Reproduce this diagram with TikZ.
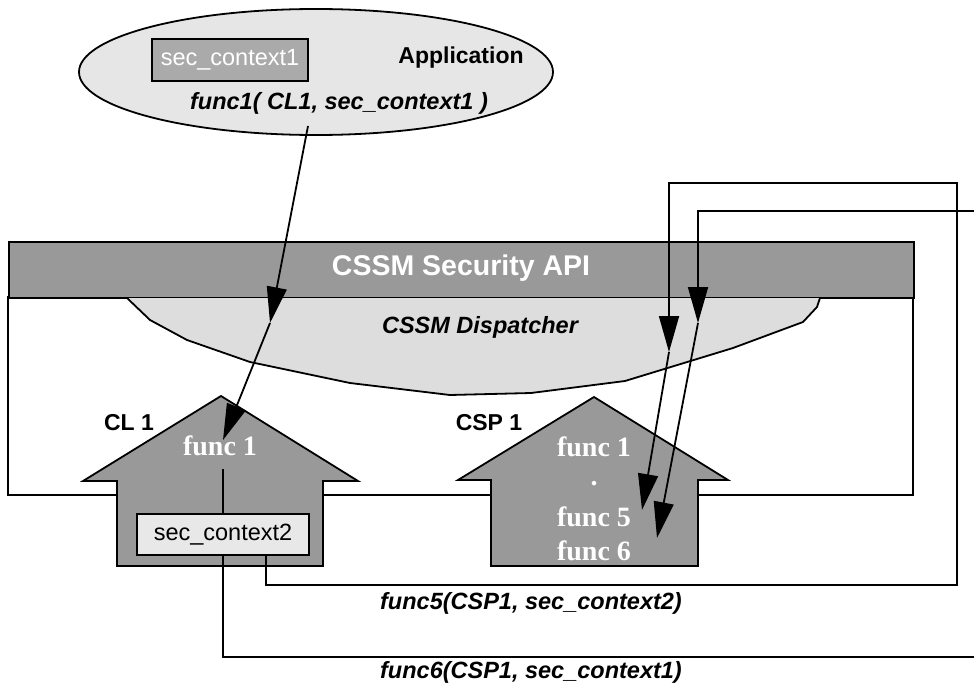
\documentclass[tikz,border=0pt]{standalone}
\usepackage{fontspec}
\setmainfont{Liberation Sans}
\newfontfamily\tnr{Liberation Serif}
\usetikzlibrary{arrows.meta,shapes.geometric}
\definecolor{darkg}{HTML}{999999}
\definecolor{lightg}{HTML}{DDDDDD}
\definecolor{ellg}{HTML}{E6E6E6}
\definecolor{boxg}{HTML}{AAAAAA}
\definecolor{boxl}{HTML}{E8E8E8}
\begin{document}
\begin{tikzpicture}[x=1pt,y=-1pt,line width=1.8pt,
  arr/.style={-{Triangle[length=36pt,width=20pt]}},
  lbl/.style={font=\fontsize{23.5}{28}\selectfont\bfseries\itshape},
  bold/.style={font=\fontsize{23}{28}\selectfont\bfseries},
  serifw/.style={font=\fontsize{28}{32}\selectfont\tnr\bfseries,text=white,inner sep=0pt},
  house/.style={draw,fill=darkg,line join=miter}]
\useasboundingbox (0,0) rectangle (974,685);
% application ellipse
\node[ellipse,draw,fill=ellg,minimum width=474pt,minimum height=126pt,inner sep=0pt] (app) at (316,72) {};
\node[draw,fill=boxg,minimum width=156pt,minimum height=42pt,inner sep=0pt,text=white,font=\fontsize{23.5}{28}\selectfont] (sc1) at (230,60) {sec\_context1};
\node[bold] (appl) at (461,58) {Application};
\node[lbl] (f1call) at (339,103) {func1( CL1, sec\_context1 )};
% frame
\draw (8,297) rectangle (913,495);
\node[draw,fill=darkg,anchor=north west,minimum width=905pt,minimum height=56pt,inner sep=0pt] (api) at (8,241) {};
\node[font=\fontsize{28.5}{32}\selectfont\bfseries,text=white] (apit) at (461,268) {CSSM Security API};
% dispatcher
\path[fill=lightg] (127,298) -- (150,320) -- (187,340) -- (250,362) -- (350,383) -- (450,395) -- (531,393) -- (625,381) -- (697,359) -- (733,348) -- (803,322) -- (817,307) -- (820,298) -- cycle;
\draw[line join=round] (127,298) -- (150,320) -- (187,340) -- (250,362) -- (350,383) -- (450,395) -- (531,393) -- (625,381) -- (697,359) -- (733,348) -- (803,322) -- (817,307) -- (820,298);
\node[lbl] (disp) at (480,327) {CSSM Dispatcher};
% houses
\draw[house] (83,481) -- (221,396) -- (358,481) -- (323,481) -- (323,566) -- (117,566) -- (117,481) -- cycle;
\draw[house] (458,480) -- (594,397) -- (728,480) -- (698,480) -- (698,566) -- (491,566) -- (491,480) -- cycle;
\node[bold] (cl1) at (129,423) {CL 1};
\node[bold] (csp1) at (489,423) {CSP 1};
\node[serifw] (cf1) at (220,446) {func 1};
\node[serifw] (pf1) at (594,447) {func 1};
\node[serifw] (pdot) at (594,484) {.};
\node[serifw] (pf5) at (594,517) {func 5};
\node[serifw] (pf6) at (594,551) {func 6};
\node[draw,fill=boxl,minimum width=172pt,minimum height=41pt,inner sep=0pt,font=\fontsize{23.5}{28}\selectfont] (sc2) at (223,534.5) {sec\_context2};
% connectors
\coordinate (a1) at (308,126);
\coordinate (m1) at (270,323);
\coordinate (t1) at (223,440);
\draw[arr] (a1) -- (m1);
\draw[arr] (m1) -- (t1);
\draw (223,469) -- (sc2.north);
\coordinate (s5) at (266,555);
\coordinate (s6) at (223,555);
\coordinate (r5) at (957,585);
\coordinate (m5) at (669,352);
\coordinate (t5) at (642,510);
\coordinate (e6) at (974,657);
\coordinate (e6b) at (974,211);
\coordinate (m6) at (698,323);
\coordinate (t6) at (657,538);
\draw[line join=miter] (s5) |- (r5) |- (669,183) -- (669,320);
\draw[arr] (669,300) -- (m5);
\draw[arr] (m5) -- (t5);
\draw[line join=miter] (s6) |- (e6);
\draw[line join=miter] (e6b) -| (698,290);
\draw[arr] (698,270) -- (m6);
\draw[arr] (m6) -- (t6);
\node[lbl] (f5l) at (531,603) {func5(CSP1, sec\_context2)};
\node[lbl] (f6l) at (531,672) {func6(CSP1, sec\_context1)};
\end{tikzpicture}
\end{document}
